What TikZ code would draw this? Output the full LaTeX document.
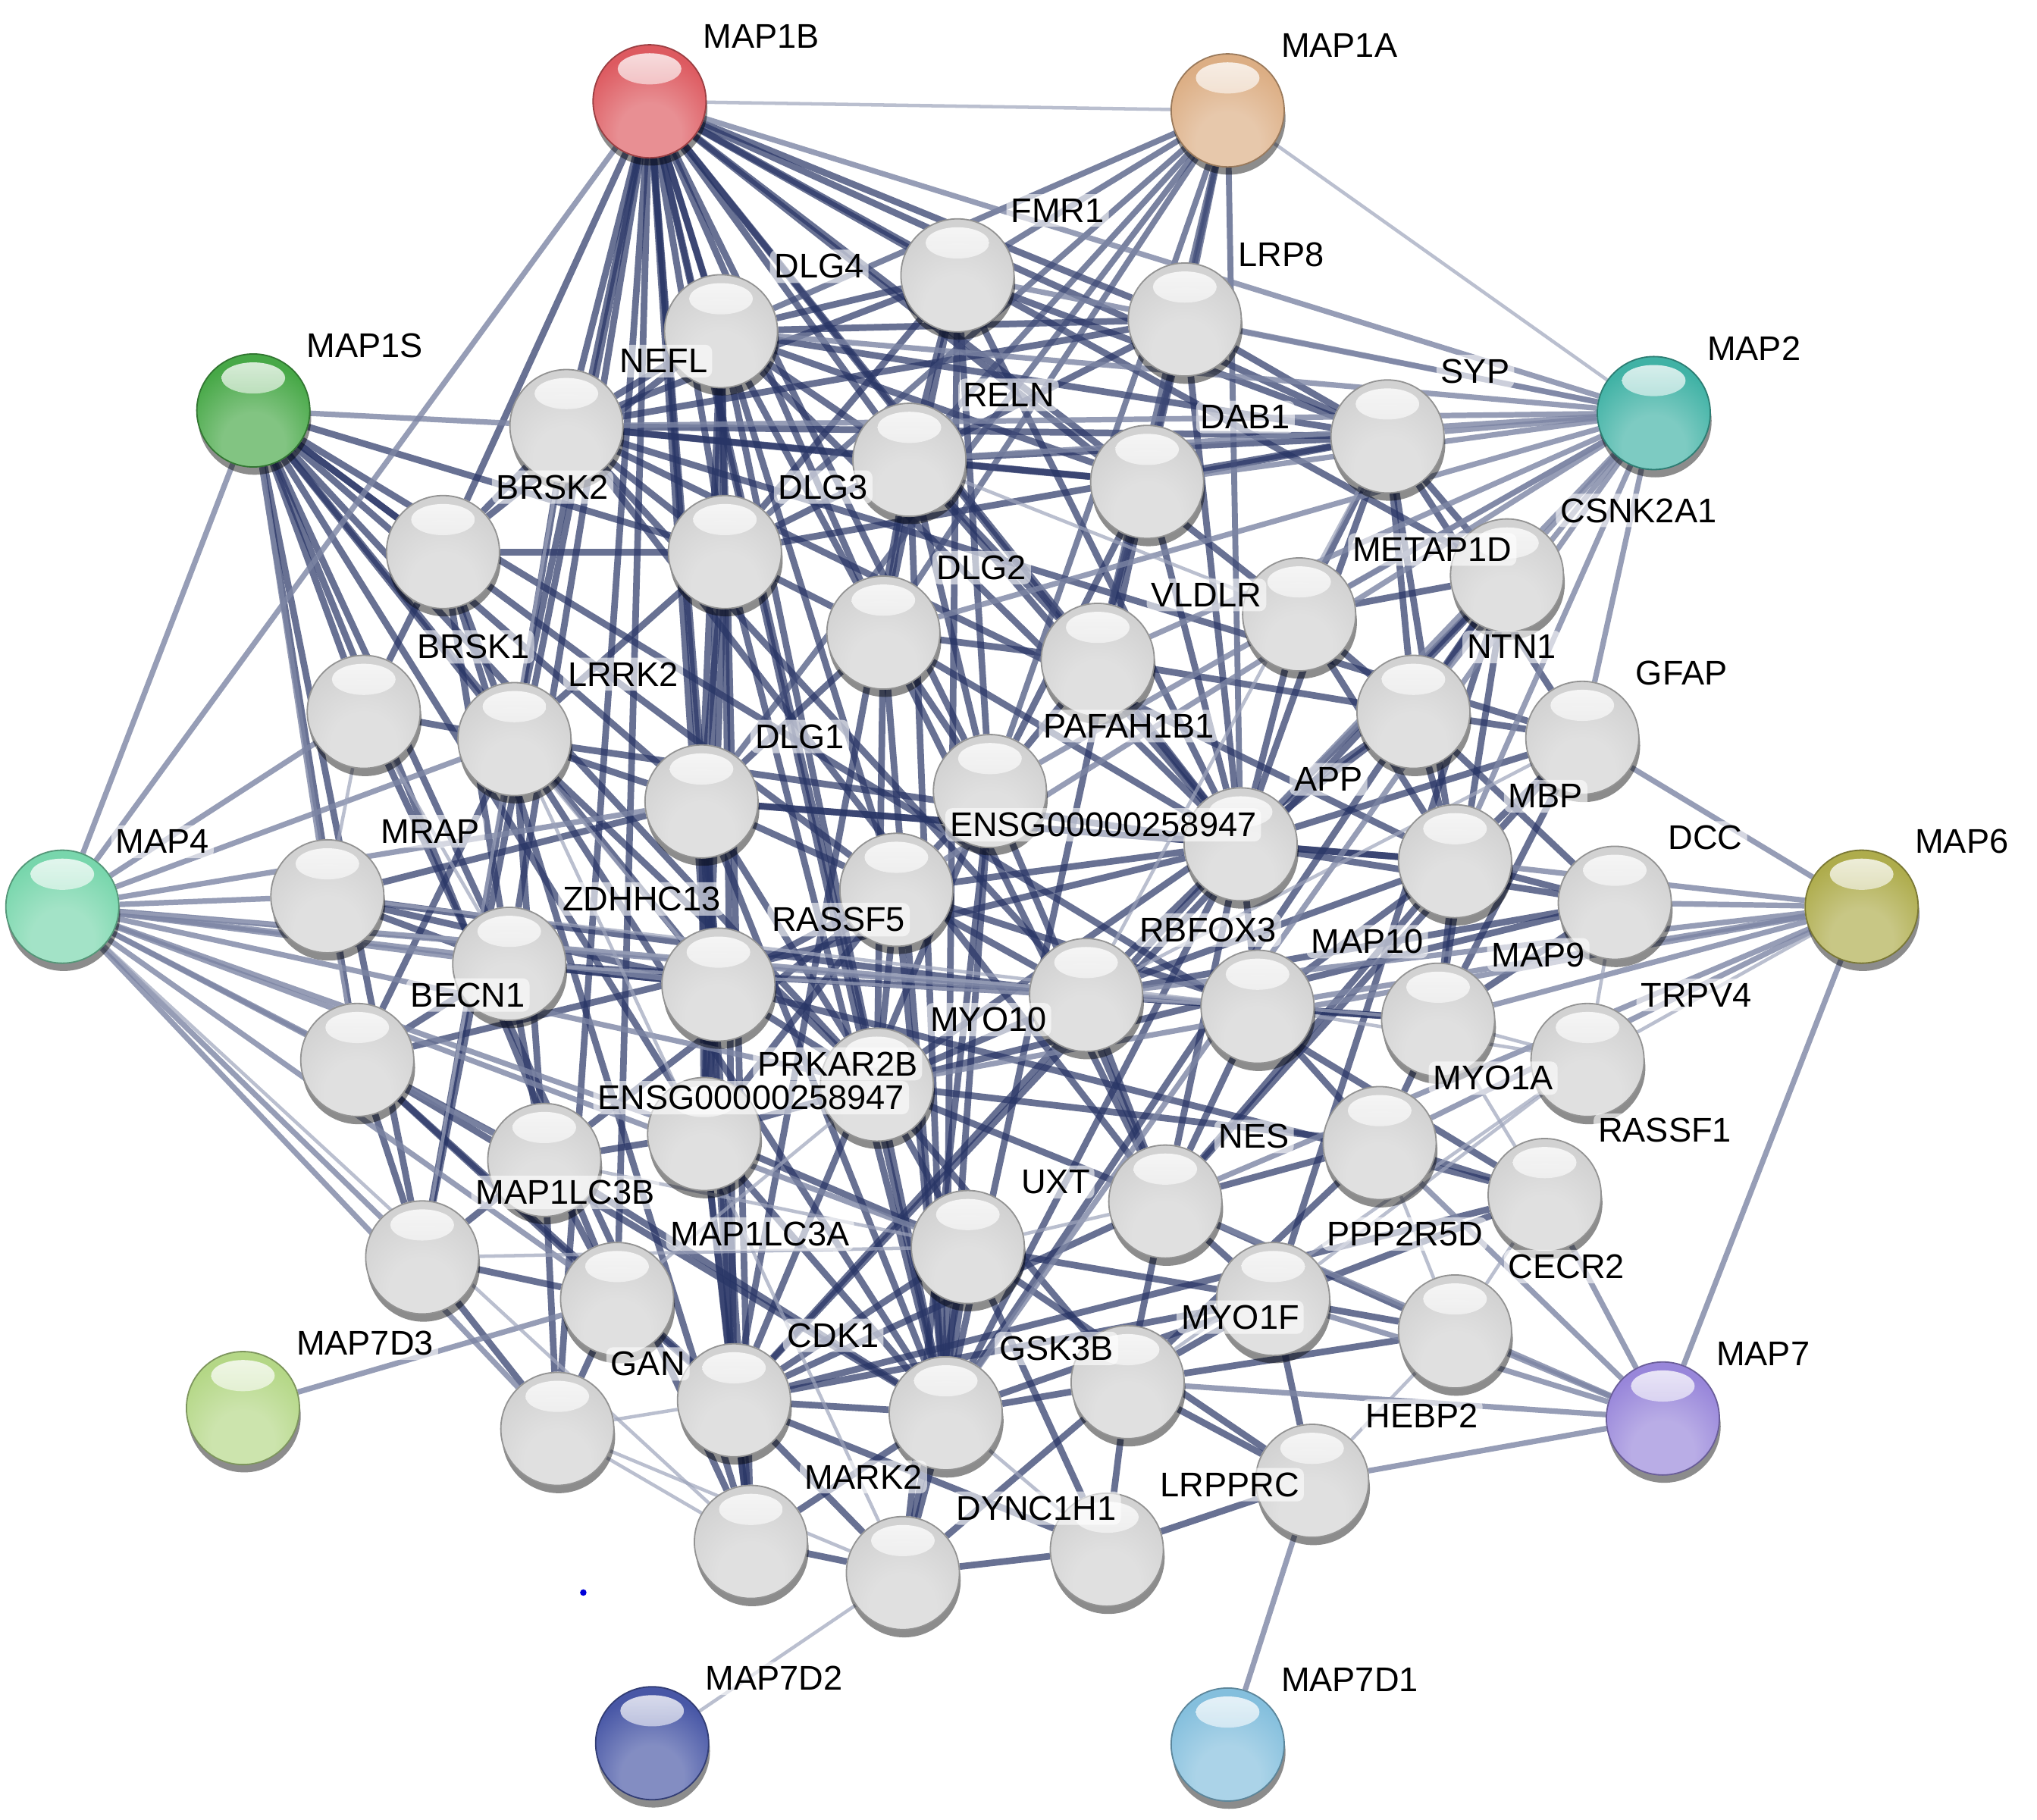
\documentclass[tikz,border=0pt]{standalone}
\usepackage{fontspec}
\setmainfont{Liberation Sans}
\usetikzlibrary{shadows}
\definecolor{edgenavy}{HTML}{283566}
\definecolor{edgegray}{HTML}{7C85A4}
\definecolor{cred}{HTML}{DD5A60}
\definecolor{ctan}{HTML}{DCAE84}
\definecolor{cgreen}{HTML}{47A847}
\definecolor{cteal}{HTML}{40B2A5}
\definecolor{cmint}{HTML}{78D6AC}
\definecolor{colive}{HTML}{AEAC4C}
\definecolor{clime}{HTML}{B4D786}
\definecolor{cpurple}{HTML}{9886DA}
\definecolor{cnavy}{HTML}{4857A6}
\definecolor{csky}{HTML}{84BFDD}
\definecolor{cwhite}{HTML}{D2D2D2}
\colorlet{sphlight}{white}\colorlet{sphmid}{gray}\colorlet{sphdark}{black}
\pgfdeclareradialshading[sphlight,sphmid,sphdark]{strball}{\pgfpoint{0bp}{-18bp}}{color(0bp)=(sphlight); color(14bp)=(sphlight); color(32bp)=(sphmid); color(52bp)=(sphmid); color(64bp)=(sphdark); color(80bp)=(sphdark)}
\pgfdeclarelayer{bglayer}
\pgfdeclarelayer{edgelayer}
\pgfsetlayers{bglayer,edgelayer,main}
\tikzset{
  sph/.style={circle, minimum size=0.87cm, inner sep=0pt, shade, shading=strball,
    draw=sphdark, line width=0.3pt,
    drop shadow={shadow xshift=0.01cm, shadow yshift=-0.06cm, opacity=0.45, fill=black},
    path picture={\shade[top color=white!92!sphmid, bottom color=sphmid!75!white, opacity=0.9]
      ([yshift=0.25cm]path picture bounding box.center) ellipse [x radius=0.245cm, y radius=0.12cm];}},
  lab/.style={anchor=west, font=\fontsize{7.5}{8.5}\selectfont, fill=white, fill opacity=0.6,
    text opacity=1, inner sep=1pt, rounded corners=1.5pt},
  edk/.style={draw=edgenavy, line width=1.45pt, opacity=0.7},
  emd/.style={draw=edgenavy!70!edgegray, line width=1.3pt, opacity=0.7},
  egy/.style={draw=edgegray, line width=1.2pt, opacity=0.8},
  elt/.style={draw=edgegray!75!white, line width=0.75pt, opacity=0.7}
}
\newcommand\Sph[4]{\colorlet{sphmid}{#4}\colorlet{sphlight}{#4!68!white}\colorlet{sphdark}{#4!70!black}%
  \node[sph] (#1) at (#2/100,-#3/100) {};}
\newcommand\Lab[3][0.50cm]{\node[lab] (t#2) at ([xshift=0.37cm,yshift=#1]#2.center) {#3};}
\begin{document}
\begin{tikzpicture}
\begin{pgfonlayer}{bglayer}
\fill[white] (0,0) rectangle (15.68,-14.01);
\end{pgfonlayer}
\useasboundingbox (0,0) rectangle (15.68,-14.01);
% coloured spheres
\Sph{MAP1B}{500}{78}{cred}
\Sph{MAP1A}{945}{85}{ctan}
\Sph{MAP1S}{195}{316}{cgreen}
\Sph{MAP2}{1273}{318}{cteal}
\Sph{MAP4}{48}{698}{cmint}
\Sph{MAP6}{1433}{698}{colive}
\Sph{MAP7D3}{187}{1084}{clime}
\Sph{MAP7}{1280}{1092}{cpurple}
\Sph{MAP7D2}{502}{1342}{cnavy}
\Sph{MAP7D1}{945}{1343}{csky}
% white spheres
\foreach \n/\x/\y in {FMR1/737/212, DLG4/555/255, LRP8/912/246, NEFL/436/328, RELN/700/354,
  SYP/1068/336, DAB1/883/371, BRSK2/341/425, DLG3/558/425, CSNK2A1/1160/443, METAP1D/1000/473,
  DLG2/680/487, VLDLR/845/508, NTN1/1088/548, GFAP/1218/568, BRSK1/280/548, LRRK2/396/569,
  DLG1/540/617, PAFAH1B1/762/609, APP/955/650, MBP/1120/663, ENSGa/690/685, DCC/1243/695,
  MRAP/252/690, ZDHHC13/392/742, BECN1/275/816, RASSF5/553/758, RBFOX3/836/766, MAP10/968/775,
  MAP9/1107/785, TRPV4/1222/816, MYO10/675/835, PRKAR2B/542/873, ENSGb/419/893, MYO1A/1062/880,
  RASSF1/1189/920, NES/897/925, UXT/745/960, MAP1LC3B/325/968, MAP1LC3A/475/1000,
  PPP2R5D/980/1000, CECR2/1120/1025, GAN/429/1100, CDK1/565/1078, GSK3B/728/1088,
  MYO1F/868/1064, HEBP2/1010/1140, MARK2/578/1187, DYNC1H1/695/1211, LRPPRC/852/1193}
  {\Sph{\n}{\x}{\y}{cwhite}}
% edges
\begin{pgfonlayer}{edgelayer}
\foreach \a/\b in {MAP1B/FMR1, MAP1B/DLG4, MAP1B/NEFL, MAP1B/RELN, MAP1B/DLG3, MAP1B/DLG2, MAP1B/DLG1,
  MAP1B/LRRK2, MAP1B/BRSK2, MAP1B/VLDLR, MAP1B/DAB1, MAP1B/PAFAH1B1, MAP1B/APP, MAP1B/ENSGa,
  MAP1B/GSK3B, MAP1B/MAP1LC3B, MAP1B/MAP1LC3A, MAP1B/GAN, MAP1B/CDK1, MAP1B/LRP8, MAP1B/SYP,
  MAP1B/RASSF5, MAP1B/ZDHHC13, MAP1B/MYO10, MAP1B/CSNK2A1, MAP1B/METAP1D,
  MAP1S/BRSK2, MAP1S/DLG3, MAP1S/DLG1, MAP1S/LRRK2, MAP1S/ENSGa, MAP1S/MAP1LC3B, MAP1S/MAP1LC3A,
  MAP1S/BECN1, MAP1S/ZDHHC13, MAP1S/RASSF5, MAP1S/PRKAR2B, MAP1S/MYO10, MAP1S/RASSF1, MAP1S/BRSK1,
  DLG1/DLG2, DLG1/DLG3, DLG1/DLG4, DLG2/DLG3, DLG2/DLG4, DLG3/DLG4,
  DLG4/FMR1, DLG4/NEFL, DLG4/RELN, DLG4/SYP, DLG4/LRP8, DLG4/APP, DLG4/GSK3B, DLG4/MARK2, DLG4/BRSK2,
  DLG4/PRKAR2B, DLG4/DAB1,
  DLG3/NEFL, DLG3/RELN, DLG3/LRRK2, DLG3/GSK3B, DLG3/PRKAR2B, DLG3/SYP, DLG3/BRSK2, DLG3/CDK1,
  DLG2/RELN, DLG2/VLDLR, DLG2/APP, DLG2/PAFAH1B1, DLG2/GSK3B, DLG2/NES, DLG2/MYO10,
  DLG1/LRRK2, DLG1/RASSF5, DLG1/GSK3B, DLG1/MARK2, DLG1/CDK1, DLG1/PRKAR2B, DLG1/ENSGa, DLG1/MYO10,
  DLG1/APP, DLG1/MBP,
  FMR1/APP, FMR1/RELN, FMR1/DLG3, FMR1/GSK3B, FMR1/PAFAH1B1, FMR1/NEFL, FMR1/DLG2, FMR1/SYP,
  RELN/DAB1, RELN/VLDLR, RELN/LRP8, RELN/PAFAH1B1, RELN/APP, RELN/NEFL, RELN/GSK3B, RELN/CDK1, RELN/SYP,
  DAB1/VLDLR, DAB1/LRP8, DAB1/PAFAH1B1, DAB1/APP, DAB1/GSK3B, DAB1/NEFL, DAB1/SYP,
  VLDLR/LRP8, VLDLR/APP, VLDLR/PAFAH1B1, VLDLR/NTN1, LRP8/APP, LRP8/SYP, LRP8/NEFL,
  APP/GSK3B, APP/CDK1, APP/NTN1, APP/DCC, APP/MBP, APP/GFAP, APP/SYP, APP/NES, APP/BECN1,
  APP/CSNK2A1, APP/LRRK2, APP/MAP10, APP/RBFOX3,
  PAFAH1B1/DYNC1H1, PAFAH1B1/CDK1, PAFAH1B1/GSK3B, PAFAH1B1/NES, PAFAH1B1/ENSGa,
  NTN1/DCC, NTN1/MYO10, NTN1/GFAP, NTN1/MBP, NTN1/CSNK2A1,
  SYP/GFAP, SYP/MBP, SYP/NEFL, SYP/METAP1D, SYP/CSNK2A1, SYP/NTN1,
  GFAP/MBP, GFAP/NES, GFAP/NEFL, GFAP/MAP9,
  MBP/NEFL, MBP/MAP9, MBP/DCC, MBP/RBFOX3, MBP/NES, MBP/MAP10,
  NEFL/NES, NEFL/BRSK2, NEFL/LRRK2, NEFL/RBFOX3, NES/RBFOX3, NES/CDK1, NES/MYO1F,
  CSNK2A1/GSK3B, CSNK2A1/CDK1, CSNK2A1/METAP1D, CSNK2A1/PPP2R5D, CSNK2A1/MAP9,
  METAP1D/NTN1, METAP1D/APP, METAP1D/MBP,
  GSK3B/CDK1, GSK3B/MARK2, GSK3B/BECN1, GSK3B/PPP2R5D, GSK3B/DYNC1H1, GSK3B/MYO1F, GSK3B/LRRK2,
  GSK3B/UXT, GSK3B/PRKAR2B, GSK3B/ENSGa, GSK3B/ENSGb,
  CDK1/MARK2, CDK1/DYNC1H1, CDK1/BECN1, CDK1/UXT, CDK1/PRKAR2B, CDK1/LRPPRC, CDK1/RASSF1, CDK1/PPP2R5D,
  MARK2/DYNC1H1, MARK2/BRSK1, MARK2/BRSK2, MARK2/PRKAR2B,
  BRSK1/BRSK2, BRSK1/LRRK2, BRSK2/LRRK2, BRSK2/ZDHHC13,
  LRRK2/MAP1LC3B, LRRK2/BECN1, LRRK2/MYO10, LRRK2/ENSGb,
  MAP1LC3A/MAP1LC3B, MAP1LC3A/BECN1, MAP1LC3B/BECN1, MAP1LC3A/GAN, MAP1LC3B/GAN, MAP1LC3B/ENSGb,
  MAP1LC3A/ENSGb, MAP1LC3A/CDK1, BECN1/ZDHHC13, BECN1/ENSGb,
  RASSF5/RASSF1, RASSF5/ENSGa, RASSF5/PRKAR2B, RASSF5/MYO10, RASSF5/ZDHHC13,
  RASSF1/MYO1A, RASSF1/PPP2R5D,
  MYO10/MYO1A, MYO10/MYO1F, MYO10/DCC, MYO10/UXT, MYO10/RBFOX3, MYO10/PRKAR2B, MYO10/NES,
  MYO1A/MYO1F, MYO1A/MAP10, MYO1A/NES, MAP9/MAP10, MAP9/MYO1A, MAP10/RBFOX3, MAP10/NES, MAP9/RBFOX3,
  HEBP2/LRPPRC, HEBP2/PPP2R5D, HEBP2/MYO1F, HEBP2/UXT, LRPPRC/DYNC1H1, LRPPRC/MYO1F, LRPPRC/UXT,
  DYNC1H1/UXT, DYNC1H1/MYO1F, PPP2R5D/CECR2, PPP2R5D/MYO1F, PPP2R5D/NES, PPP2R5D/UXT, UXT/PRKAR2B,
  ENSGa/ENSGb, ENSGa/RBFOX3, ENSGa/MYO10, ENSGa/PRKAR2B, ENSGa/MAP10, ENSGa/APP,
  ENSGb/PRKAR2B, ENSGb/ZDHHC13, ENSGb/GAN, MRAP/ZDHHC13, MRAP/RASSF5, MRAP/RBFOX3, MRAP/DLG1,
  ZDHHC13/RASSF5, ZDHHC13/RBFOX3, DCC/MAP9, DCC/RBFOX3, CECR2/MYO1F, CECR2/NES}
  \draw[edk] (\a) -- (\b);
\foreach \a/\b in {MAP1A/FMR1, MAP1A/DLG4, MAP1A/RELN, MAP1A/DAB1, MAP1A/VLDLR, MAP1A/LRP8,
  MAP1A/DLG2, MAP1A/DLG3, MAP1A/PAFAH1B1, MAP1A/APP, MAP1A/DLG1}
  \draw[emd] (\a) -- (\b);
\foreach \a/\b in {MAP1B/MAP4, MAP1B/MAP2, MAP1S/MAP4, MAP1S/MRAP, MAP1S/NEFL,
  MAP2/SYP, MAP2/DAB1, MAP2/LRP8, MAP2/RELN, MAP2/VLDLR, MAP2/METAP1D, MAP2/CSNK2A1, MAP2/NTN1,
  MAP2/GFAP, MAP2/APP, MAP2/MBP, MAP2/NEFL, MAP2/DLG4, MAP2/PAFAH1B1, MAP2/GSK3B, MAP2/ENSGa,
  MAP2/DLG2, MAP2/FMR1,
  MAP4/MRAP, MAP4/ZDHHC13, MAP4/BECN1, MAP4/RASSF5, MAP4/MAP1LC3B, MAP4/MAP1LC3A, MAP4/ENSGb,
  MAP4/PRKAR2B, MAP4/MYO10, MAP4/RBFOX3, MAP4/MAP10, MAP4/DLG1, MAP4/GAN, MAP4/UXT, MAP4/BRSK1,
  MAP4/LRRK2,
  MAP6/MAP9, MAP6/MAP10, MAP6/MYO1A, MAP6/DCC, MAP6/RBFOX3, MAP6/MYO10, MAP6/MBP, MAP6/GFAP,
  MAP6/MAP7, MAP6/NES,
  MAP7/CECR2, MAP7/HEBP2, MAP7/PPP2R5D, MAP7/MYO1F, MAP7/RASSF1, MAP7/NES, MAP7/MYO1A,
  MAP7D3/MAP1LC3A, MAP7D1/HEBP2}
  \draw[egy] (\a) -- (\b);
\foreach \a/\b in {MAP1B/MAP1A, MAP1A/MAP2, MAP4/MARK2, MAP4/MAP9, MAP6/TRPV4, MAP7D2/DYNC1H1,
  RASSF1/CECR2, RASSF1/MAP9, MYO1A/CECR2, HEBP2/CECR2, TRPV4/PPP2R5D, TRPV4/MYO1F, GAN/DYNC1H1,
  GAN/CDK1, GAN/MARK2, BECN1/MRAP, BRSK1/MRAP, BRSK1/ZDHHC13, NEFL/MAP1LC3B, MAP1LC3B/UXT,
  MAP1LC3A/MYO10, MAP10/TRPV4, MAP9/TRPV4, DCC/TRPV4, LRPPRC/GSK3B, RELN/METAP1D, SYP/RBFOX3,
  GFAP/RBFOX3, ZDHHC13/MAP10, MRAP/MAP10, LRRK2/DYNC1H1, LRRK2/RASSF5, NES/UXT, UXT/ENSGb}
  \draw[elt] (\a) -- (\b);
\end{pgfonlayer}
% stray dot
\fill[blue!85!black] (4.49,-12.26) circle (0.025cm);
% labels
\foreach \n in {MAP1B, MAP1A, MAP1S, MAP2, MAP4, MAP6, MAP7D3, MAP7, MAP7D2, MAP7D1,
  FMR1, DLG4, LRP8, NEFL, RELN, SYP, DAB1, BRSK2, DLG3, CSNK2A1, METAP1D, DLG2, VLDLR, NTN1,
  GFAP, BRSK1, LRRK2, DLG1, PAFAH1B1, APP, MBP, DCC, MRAP, ZDHHC13, BECN1, RASSF5, RBFOX3,
  MAP10, MAP9, TRPV4, MYO10, MYO1A, RASSF1, NES, UXT, MAP1LC3B, MAP1LC3A, PPP2R5D,
  CECR2, GAN, CDK1, GSK3B, MYO1F, HEBP2, MARK2, DYNC1H1, LRPPRC}
  {\Lab{\n}{\n}}
\Lab[0.54cm]{PRKAR2B}{PRKAR2B}
\Lab{ENSGa}{ENSG00000258947}
\Lab[0.48cm]{ENSGb}{ENSG00000258947}
\end{tikzpicture}
\end{document}
